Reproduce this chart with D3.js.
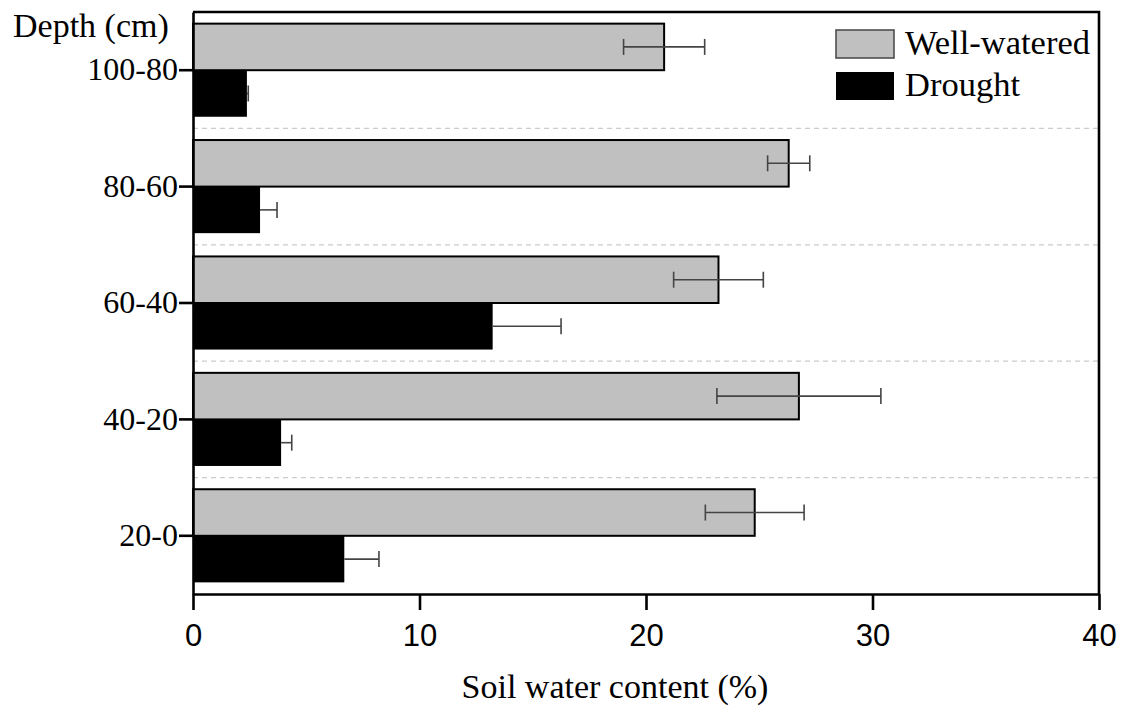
<!DOCTYPE html>
<html><head><meta charset="utf-8">
<script src="https://cdn.jsdelivr.net/npm/d3@7"></script>
<style>body{margin:0;background:#fff}svg{display:block}</style>
</head><body>
<svg id="chart" width="1128" height="713"></svg>
<script>
const categories = ["100-80","80-60","60-40","40-20","20-0"];
const series = ["Well-watered","Drought"];
const wellWatered = [20.8, 26.3, 23.2, 26.75, 24.8];
const wellWateredErr = [1.79, 0.93, 1.98, 3.62, 2.18];
const drought = [2.38, 2.96, 13.23, 3.89, 6.68];
const droughtErr = [0.06, 0.75, 3.02, 0.47, 1.53];
const xTicks = [0,10,20,30,40];
const colors = ["#c0c0c0","#000000"];

const SERIF = "'Liberation Serif', 'Times New Roman', serif";
const SANS = "'Liberation Sans', Arial, sans-serif";

const svg = d3.select("#chart");
const L=193, R=1099, T=12, B=594;
const x = d3.scaleLinear().domain([0,40]).range([L,R]);
const y = d3.scaleBand().domain(categories).range([T,B]).paddingInner(0.2).paddingOuter(0.1);
const ySub = d3.scaleBand().domain(series).range([0,y.bandwidth()]);

const data = categories.map((c,i)=>({cat:c, vals:[
  {s:series[0], v:wellWatered[i], e:wellWateredErr[i]},
  {s:series[1], v:drought[i], e:droughtErr[i]}]}));

// separators
const step = y.step();
svg.append("g").selectAll("line").data(categories.slice(1)).join("line")
  .attr("x1",L).attr("x2",R)
  .attr("y1",d=>y(d)-y.paddingInner()*step/2).attr("y2",d=>y(d)-y.paddingInner()*step/2)
  .attr("stroke","#cccccc").attr("stroke-width",1.2).attr("stroke-dasharray","5,4");

const g = svg.append("g").selectAll("g").data(data).join("g")
  .attr("transform",d=>`translate(0,${y(d.cat)})`);
g.selectAll("rect").data(d=>d.vals).join("rect")
  .attr("x",x(0)).attr("y",d=>ySub(d.s))
  .attr("width",d=>x(d.v)-x(0)).attr("height",ySub.bandwidth())
  .attr("fill",(d,i)=>colors[i])
  .attr("stroke",(d,i)=>i===0?"#000":"none").attr("stroke-width",2);

// error bars
const eb = g.selectAll("g.eb").data(d=>d.vals).join("g").attr("class","eb")
  .attr("transform",d=>`translate(0,${ySub(d.s)+ySub.bandwidth()/2})`);
eb.append("line").attr("x1",d=>x(d.s===series[0]?d.v-d.e:d.v)).attr("x2",d=>x(d.v+d.e))
  .attr("stroke","#444").attr("stroke-width",1.6);
eb.filter(d=>d.s===series[0]).append("line").attr("x1",d=>x(d.v-d.e)).attr("x2",d=>x(d.v-d.e))
  .attr("y1",-8).attr("y2",8).attr("stroke","#444").attr("stroke-width",1.6);
eb.append("line").attr("x1",d=>x(d.v+d.e)).attr("x2",d=>x(d.v+d.e))
  .attr("y1",-8).attr("y2",8).attr("stroke","#444").attr("stroke-width",1.6);

// axes
const xAxis = svg.append("g").attr("transform",`translate(0,${B})`)
  .call(d3.axisBottom(x).tickValues(xTicks).tickSize(16).tickSizeOuter(0).tickPadding(14));
xAxis.select(".domain").attr("stroke-width",2.6);
xAxis.selectAll(".tick line").attr("stroke-width",2.6);
xAxis.selectAll("text").attr("font-family",SANS).attr("font-size",31).attr("fill","#000");

const yAxis = svg.append("g").attr("transform",`translate(${L},0)`)
  .call(d3.axisLeft(y).tickSize(14).tickSizeOuter(0).tickPadding(1));
yAxis.select(".domain").attr("stroke-width",2.6);
yAxis.selectAll(".tick line").attr("stroke-width",2.6);
yAxis.selectAll("text").attr("font-family",SERIF).attr("font-size",32).attr("fill","#000");

// frame top / right
svg.append("path").attr("d",`M${L},${T}H${R}V${B}`).attr("fill","none").attr("stroke","#000").attr("stroke-width",2.6);

// titles
svg.append("text").attr("x",13).attr("y",37).text("Depth (cm)")
  .attr("font-family",SERIF).attr("font-size",34);
svg.append("text").attr("x",615).attr("y",698).attr("text-anchor","middle").text("Soil water content (%)")
  .attr("font-family",SERIF).attr("font-size",34);

// legend
const lg = svg.append("g").selectAll("g").data(series).join("g")
  .attr("transform",(d,i)=>`translate(836,${30+i*42})`);
lg.append("rect").attr("width",58).attr("height",28).attr("fill",(d,i)=>colors[i])
  .attr("stroke",(d,i)=>i===0?"#444":"none").attr("stroke-width",1.5);
lg.append("text").attr("x",69).attr("y",24).text(d=>d)
  .attr("font-family",SERIF).attr("font-size",34.5);
</script>
</body></html>
